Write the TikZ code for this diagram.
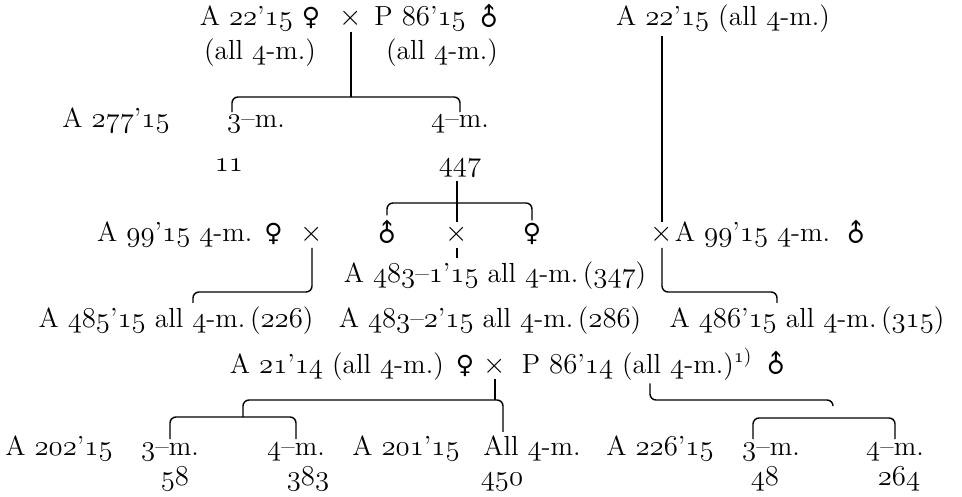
\documentclass[tikz,border=0pt]{standalone}
\usepackage{fontspec}
\newfontfamily\sexfont{DejaVu Sans}
\newcommand{\osn}[1]{{\usefont{OML}{cmm}{m}{it}#1}}
\newcommand{\sexf}{{\sexfont\fontsize{12.5}{14}\selectfont ♀}}
\newcommand{\sexm}{\raisebox{0pt}[\height][0pt]{\rotatebox[origin=c]{45}{\sexfont\fontsize{12.5}{14}\selectfont ♂}}}
\tikzset{
  lbl/.style={inner sep=1.5pt, font=\fontsize{13.8}{16}\selectfont, anchor=base},
  brk/.style={line width=0.7pt, rounded corners=3pt}
}

\begin{document}
\begin{tikzpicture}[x=0.5pt, y=-0.5pt]
    \useasboundingbox (0,0) rectangle (962,497);

    % --- Cruce A 22'15 x P 86'15 ---
    \node[lbl] (p1) at (260,26) {A \osn{22}’\osn{15} \sexf};
    \node[lbl] (x1) at (351,26) {$\times$};
    \node[lbl] (p2) at (439,26) {P \osn{86}’\osn{15} \sexm};
    \node[lbl] (p3) at (723,26) {A \osn{22}’\osn{15} (all \osn{4}-m.)};
    \node[lbl] (a1) at (260,60) {(all \osn{4}-m.)};
    \node[lbl] (a2) at (442,60) {(all \osn{4}-m.)};

    \node[lbl] (m1) at (116,128) {A \osn{277}’\osn{15}};
    \node[lbl] (m3) at (256,128) {\osn{3}–m.};
    \node[lbl] (m4) at (460,128) {\osn{4}–m.};
    \node[lbl] (n11) at (229,172) {\osn{11}};
    \node[lbl] (n447) at (460,172) {\osn{447}};

    \coordinate (b1l) at (232,97);
    \coordinate (b1r) at (460,97);
    \draw[brk] (x1.south) -- (x1.south |- b1l);
    \draw[brk] (b1l |- m3.north) -- (b1l) -- (b1r) -- (b1r |- m4.north);

    % --- Fila A 99'15 ---
    \node[lbl] (r5a) at (190,242) {A \osn{99}’\osn{15} \osn{4}-m. \sexf};
    \node[lbl] (xl) at (312,242) {$\times$};
    \node[lbl] (s1) at (387,242) {\sexm};
    \node[lbl] (xm) at (457,242) {$\times$};
    \node[lbl] (s2) at (532,242) {\sexf};
    \node[lbl] (xr) at (662,242) {$\times$};
    \node[lbl] (r5b) at (773,242) {A \osn{99}’\osn{15} \osn{4}-m. \sexm};

    \coordinate (b2l) at (387,203);
    \coordinate (b2r) at (532,203);
    \draw[brk] (s1.north) -- (b2l) -- (b2r) -- (s2.north);
    \draw[brk] (xm |- n447.south) -- (xm.north);
    \draw[brk] (xr.north |- p3.south) -- (xr.north);

    \node[lbl] (r6) at (495,282) {A \osn{483}–\osn{1}’\osn{15} all \osn{4}-m.\,(\osn{347})};
    \draw[brk] (xm.south) -- (xm.south |- r6.north);

    % --- Fila A 485'15 ... ---
    \node[lbl] (r7a) at (176,327) {A \osn{485}’\osn{15} all \osn{4}-m.\,(\osn{226})};
    \node[lbl] (r7b) at (490,327) {A \osn{483}–\osn{2}’\osn{15} all \osn{4}-m.\,(\osn{286})};
    \node[lbl] (r7c) at (807,327) {A \osn{486}’\osn{15} all \osn{4}-m.\,(\osn{315})};

    \coordinate (k3) at (193,292);
    \coordinate (k4) at (777,292);
    \draw[brk] (xl.south) |- (k3) -- (k3 |- r7a.north);
    \draw[brk] (xr.south) |- (k4) -- (k4 |- r7c.north);

    % --- Cruce A 21'14 x P 86'14 ---
    \node[lbl] (pa) at (352,373) {A \osn{21}’\osn{14} (all \osn{4}-m.) \sexf};
    \node[lbl] (xb) at (495,373) {$\times$};
    \node[lbl] (pb) at (656,373) {P \osn{86}’\osn{14} (all \osn{4}-m.)\textsuperscript{\osn{1})} \sexm};

    \node[lbl] (q1) at (59,455) {A \osn{202}’\osn{15}};
    \node[lbl] (q2) at (170,455) {\osn{3}–m.};
    \node[lbl] (q3) at (296,455) {\osn{4}–m.};
    \node[lbl] (q4) at (406,455) {A \osn{201}’\osn{15}};
    \node[lbl] (q5) at (532,455) {All \osn{4}-m.};
    \node[lbl] (q6) at (660,455) {A \osn{226}’\osn{15}};
    \node[lbl] (q7) at (771,455) {\osn{3}–m.};
    \node[lbl] (q8) at (895,455) {\osn{4}–m.};

    \node[lbl] (z1) at (175,485) {\osn{58}};
    \node[lbl] (z2) at (308,485) {\osn{383}};
    \node[lbl] (z3) at (502,485) {\osn{450}};
    \node[lbl] (z4) at (765,485) {\osn{48}};
    \node[lbl] (z5) at (899,485) {\osn{264}};

    \coordinate (k5) at (243,400);
    \coordinate (k6) at (243,417);
    \coordinate (k7) at (503,400);
    \draw[brk] (xb.south) -- (xb.south |- k5);
    \draw[brk] (k7 |- q5.north) -- (k7) -- (k5) -- (k6);
    \draw[brk] (q2.north) |- (k6) -| (q3.north);

    \coordinate (k8) at (650,400);
    \coordinate (k9) at (833,400);
    \coordinate (k11) at (753,418);
    \draw[brk] (k8 |- pb.south) -- (k8) -- (k9) -- ++(0,6);
    \draw[brk] (k11 |- q7.north) -- (k11) -| (q8.north);

\end{tikzpicture}
\end{document}
